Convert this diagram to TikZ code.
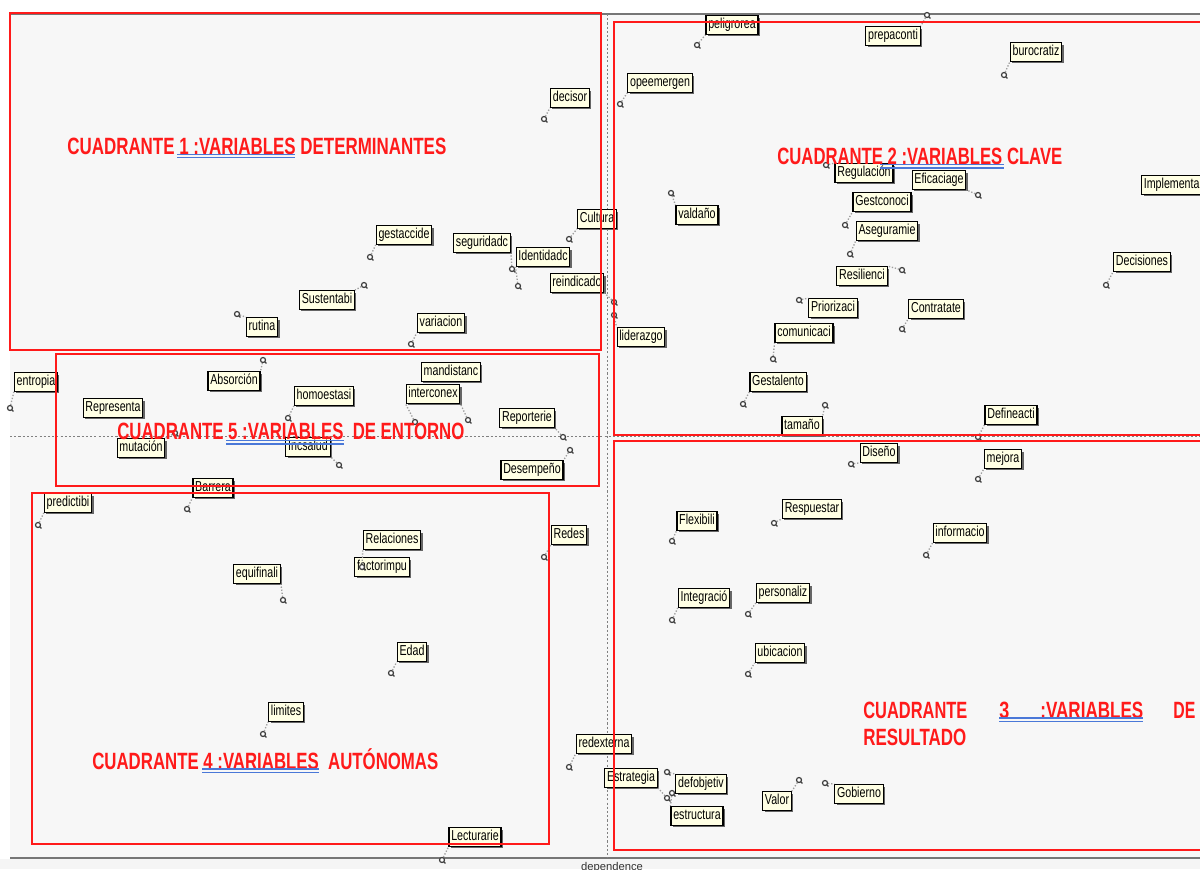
\documentclass[tikz,border=0pt]{standalone}
\usepackage{fontspec}
\usepackage{graphicx}
\setmainfont{Liberation Sans}
\newfontfamily\lblfont[FakeStretch=0.74]{Liberation Sans}
\newfontfamily\ttlfont{Liberation Sans}
\usetikzlibrary{shadows}
\definecolor{plotbg}{HTML}{F7F7F7}
\definecolor{cream}{HTML}{FFFFE4}
\definecolor{qred}{HTML}{FF1A1A}
\definecolor{ulblue}{HTML}{4A78D8}
\definecolor{axisgray}{HTML}{767676}
\newlength\tu \setlength\tu{0.02cm}

\tikzset{
  lbl/.style={draw=black, line width=0.65pt, fill=cream,
    font=\lblfont\fontsize{8.2pt}{9pt}\selectfont,
    inner xsep=1.3pt, inner ysep=0pt, minimum height=10.6pt,
    text height=6.4pt, text depth=1.9pt,
    drop shadow={shadow xshift=1.1pt, shadow yshift=-1.1pt, fill=black!60, opacity=1}},
  lead/.style={draw=gray!75, densely dotted, line width=0.75pt},
  ptc/.style={draw=black!75, line width=0.7pt},
  vpt/.pic={\draw[ptc, fill=white] (0,0) circle (2.5); \draw[ptc] (1.8,1.8) -- (3.4,3.4);},
  qbox/.style={draw=qred, line width=0.85pt},
  ttl/.style={text=qred, font=\ttlfont\bfseries\fontsize{13.4pt}{15pt}\selectfont, inner sep=0pt, anchor=base west},
  ul/.style={draw=ulblue, line width=0.6pt},
  axisline/.style={draw=axisgray, line width=1.1pt},
  midaxis/.style={draw=gray, line width=0.5pt, dash pattern=on 1.2pt off 1.2pt}
}

% variable label with its plotted point: name, x, y, text, point x, point y, anchor
\newcommand\vlab[7]{%
  \node[lbl] (#1) at (#2,#3) {#4};
  \coordinate (p#1) at (#5,#6);
  \draw[lead] (p#1) -- (#1.#7);
  \pic at (p#1) {vpt};
}
% variable label alone
\newcommand\vlabn[4]{\node[lbl] (#1) at (#2,#3) {#4};}
% quadrant title squeezed to a given width
\newcommand\qtitle[5]{\node[ttl] (#1) at (#2,#3) {\resizebox{#4\tu}{\height}{#5}};}

\begin{document}
\begin{tikzpicture}[x=0.02cm, y=-0.02cm]
\clip (0,0) rectangle (1200,869);
\useasboundingbox (0,0) rectangle (1200,869);
\fill[white] (0,0) rectangle (1200,869);
\fill[plotbg] (10,14) rectangle (1200,858);
\fill[black!4] (0,859) rectangle (1200,869);

% axes
\draw[axisline] (10,14) -- (1200,14);
\draw[axisline] (10,858) -- (1200,858);
\draw[midaxis] (607,14) -- (607,858);
\draw[midaxis] (10,436) -- (1200,436);
\node[font=\fontsize{6.4pt}{7pt}\selectfont, anchor=north, inner sep=0pt, text=black!80] (dep) at (612,862) {dependence};

% quadrant 1
\vlab{decisor}{570}{98}{decisor}{544}{119}{south west}
\vlab{gestaccide}{404}{235}{gestaccide}{370}{257}{south west}
\vlab{sustentabi}{327}{300}{Sustentabi}{364}{285}{north east}
\vlab{rutina}{262}{327}{rutina}{237}{314}{north west}
\vlab{variacion}{441}{323}{variacion}{411}{344}{south west}
\vlab{seguridadc}{482}{243}{seguridadc}{512}{269}{south east}
\vlab{identidadc}{543}{257}{Identidadc}{518}{286}{south west}
\vlab{cultura}{597}{219}{Cultura}{569}{239}{south west}
\vlab{reindicado}{577}{283}{reindicado}{614}{302}{south east}
\vlab{liderazgo}{641}{337}{liderazgo}{614}{315}{north west}

% quadrant 2
\vlab{peligrorea}{732}{25}{peligrorea}{697}{45}{south west}
\vlab{prepaconti}{893}{36}{prepaconti}{927}{15}{north east}
\vlab{burocratiz}{1036}{52}{burocratiz}{1004}{75}{south west}
\vlab{opeemergen}{660}{83}{opeemergen}{620}{104}{south west}
\vlab{valdano}{697}{215}{valdaño}{671}{193}{north west}
\vlab{regulacion}{864}{173}{Regulación}{826}{165}{north west}
\vlab{eficaciage}{939}{180}{Eficaciage}{978}{195}{south east}
\vlab{gestconoci}{882}{202}{Gestconoci}{845}{225}{south west}
\vlab{aseguramie}{887}{231}{Aseguramie}{850}{254}{south west}
\vlab{resilienci}{862}{276}{Resilienci}{902}{270}{north east}
\vlab{priorizaci}{833}{308}{Priorizaci}{799}{300}{north west}
\vlab{contratate}{936}{309}{Contratate}{902}{329}{south west}
\vlab{comunicaci}{804}{333}{comunicaci}{773}{359}{south west}
\vlab{gestalento}{778}{382}{Gestalento}{743}{404}{south west}
\vlab{tamano}{802}{426}{tamaño}{825}{405}{north east}
\node[lbl, anchor=west] (implementa) at (1141,185) {Implementa};
\vlab{decisiones}{1142}{262}{Decisiones}{1106}{285}{south west}
\vlab{defineacti}{1011}{415}{Defineacti}{978}{437}{south west}

% quadrant 3
\vlab{diseno}{879}{453}{Diseño}{851}{464}{south west}
\vlab{mejora}{1003}{459}{mejora}{978}{479}{south west}
\vlab{respuestar}{812}{509}{Respuestar}{774}{523}{south west}
\vlab{informacio}{960}{533}{informacio}{926}{555}{south west}
\vlab{flexibili}{697}{521}{Flexibili}{672}{541}{south west}
\vlab{integracio}{704}{598}{Integració}{672}{620}{south west}
\vlab{personaliz}{783}{593}{personaliz}{748}{614}{south west}
\vlab{ubicacion}{780}{653}{ubicacion}{748}{674}{south west}
\vlab{redexterna}{604}{744}{redexterna}{569}{767}{south west}
\vlab{estrategia}{631}{778}{Estrategia}{667}{798}{south east}
\vlab{defobjetiv}{701}{784}{defobjetiv}{667}{772}{north west}
\vlab{estructura}{697}{816}{estructura}{672}{793}{north west}
\vlab{valor}{777}{801}{Valor}{799}{780}{north east}
\vlab{gobierno}{859}{794}{Gobierno}{825}{783}{north west}

% quadrant 5
\vlab{entropia}{36}{382}{entropia}{10}{408}{south west}
\vlabn{representa}{113}{408}{Representa}
\vlab{mutacion}{141}{448}{mutación}{175}{433}{north east}
\vlab{absorcion}{234}{381}{Absorción}{263}{360}{north east}
\vlab{homoestasi}{324}{396}{homoestasi}{288}{418}{south west}
\vlab{incsalud}{308}{447}{Incsalud}{339}{465}{south east}
\vlabn{mandistanc}{451}{372}{mandistanc}
\vlab{interconex}{433}{394}{interconex}{415}{422}{south west}
\coordinate (pmandistanc) at (468,420);
\draw[lead] (pmandistanc) -- (interconex.south east);
\pic at (pmandistanc) {vpt};
\vlab{reporterie}{527}{418}{Reporterie}{563}{437}{south east}
\vlab{desempeno}{532}{470}{Desempeño}{570}{450}{north east}

% quadrant 4
\vlab{barrera}{213}{488}{Barrera}{187}{509}{south west}
\vlab{predictibi}{68}{503}{predictibi}{38}{525}{south west}
\vlabn{factorimpu}{382}{567}{factorimpu}
\vlab{relaciones}{392}{540}{Relaciones}{362}{567}{south west}
\vlab{equifinali}{257}{574}{equifinali}{283}{600}{south east}
\vlab{edad}{412}{652}{Edad}{391}{673}{south west}
\vlab{limites}{286}{712}{limites}{263}{734}{south west}
\vlab{redes}{569}{535}{Redes}{544}{557}{south west}
\vlab{lecturarie}{475}{837}{Lecturarie}{442}{860}{south west}

% quadrant frames
\draw[qbox] (10,13) rectangle (601,350);
\draw[qbox] (614,22) rectangle (1210,435);
\draw[qbox] (614,441) rectangle (1210,850);
\draw[qbox] (56,354) rectangle (599,486);
\draw[qbox] (32,493) rectangle (549,844);

% quadrant titles
\qtitle{t1}{67}{154}{379}{CUADRANTE 1 :VARIABLES DETERMINANTES}
\draw[ul] (177,154.5) -- (295,154.5); \draw[ul] (177,157.5) -- (295,157.5);
\qtitle{t2}{777}{164}{285}{CUADRANTE 2 :VARIABLES CLAVE}
\draw[ul] (880,164.5) -- (1004,164.5); \draw[ul] (880,168) -- (1004,168);
\qtitle{t5}{117}{439}{347}{CUADRANTE 5 :VARIABLES\ \ DE ENTORNO}
\draw[ul] (226,440.5) -- (344,440.5); \draw[ul] (226,444) -- (344,444);
\qtitle{t4}{92}{769}{346}{CUADRANTE 4 :VARIABLES\ \ AUTÓNOMAS}
\draw[ul] (202,769) -- (319,769); \draw[ul] (202,772.5) -- (319,772.5);
\qtitle{t3a}{863}{718}{104}{CUADRANTE}
\qtitle{t3b}{999}{718}{10}{3}
\qtitle{t3c}{1040}{718}{103}{:VARIABLES}
\qtitle{t3d}{1173}{718}{22}{DE}
\qtitle{t3e}{863}{745}{103}{RESULTADO}
\draw[ul] (999,718) -- (1143,718); \draw[ul] (999,721.5) -- (1143,721.5);
\end{tikzpicture}
\end{document}
